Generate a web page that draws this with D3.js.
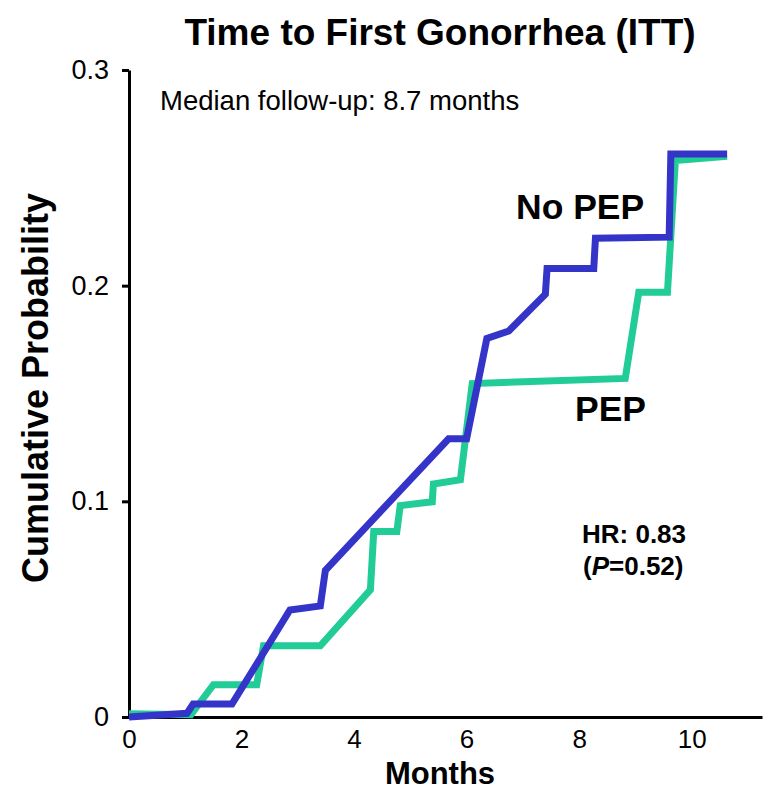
<!DOCTYPE html>
<html>
<head>
<meta charset="utf-8">
<script src="https://cdn.jsdelivr.net/npm/d3@7/dist/d3.min.js"></script>
<style>
    body { margin: 0; background: #fff; }
    svg text { font-family: "Liberation Sans", Arial, Helvetica, sans-serif; fill: #000; }
</style>
</head>
<body>
<svg id="chart" width="769" height="793"></svg>
<script>
// Time to first gonorrhea - cumulative probability by arm

const noPepMonths = [0, 1.03, 1.14, 1.83, 2.86, 3.40, 3.49, 5.68, 6.0, 6.36, 6.75, 7.40, 7.43, 8.26, 8.29, 9.60, 9.63, 10.63];
const noPepProb   = [0, 0.0017, 0.006, 0.006, 0.0496, 0.0515, 0.068, 0.129, 0.129, 0.1755, 0.179, 0.196, 0.208, 0.208, 0.222, 0.2225, 0.261, 0.261];

const pepMonths = [0, 1.1, 1.5, 2.27, 2.39, 3.40, 4.29, 4.35, 4.76, 4.82, 5.39, 5.41, 5.89, 6.10, 8.82, 9.06, 9.57, 9.71, 10.63];
const pepProb   = [0.0015, 0.001, 0.015, 0.015, 0.033, 0.033, 0.059, 0.086, 0.086, 0.098, 0.0998, 0.108, 0.11, 0.1546, 0.157, 0.197, 0.197, 0.258, 0.260];

const xTicks = [0, 2, 4, 6, 8, 10];
const yTicks = [0, 0.1, 0.2, 0.3];

const blue = '#3434c8';
const green = '#22cc96';

const svg = d3.select('#chart');

const x = d3.scaleLinear().domain([0, 11.25]).range([129, 762]);
const y = d3.scaleLinear().domain([0, 0.3]).range([717, 70]);

// Title
svg.append('text')
    .attr('x', 440)
    .attr('y', 45)
    .attr('text-anchor', 'middle')
    .style('font-size', '37px')
    .style('font-weight', 'bold')
    .text('Time to First Gonorrhea (ITT)');

// Y axis
const yAxis = svg.append('g')
    .attr('transform', `translate(${x(0)},0)`)
    .call(d3.axisLeft(y).tickValues(yTicks).tickSize(7).tickSizeOuter(0)
        .tickFormat(d => d === 0 ? '0' : d3.format('.1f')(d)));
yAxis.selectAll('path, line').attr('stroke', '#000').attr('stroke-width', 3);
yAxis.selectAll('text')
    .attr('x', -20)
    .style('font-size', '27px')
    .style('font-family', '"Liberation Sans", Arial, sans-serif');

// X axis
const xAxis = svg.append('g')
    .attr('transform', `translate(0,${y(0)})`)
    .call(d3.axisBottom(x).tickValues(xTicks).tickSize(0).tickSizeOuter(0));
xAxis.selectAll('path').attr('stroke', '#000').attr('stroke-width', 3);
xAxis.selectAll('text')
    .attr('y', 13)
    .style('font-size', '26px')
    .style('font-family', '"Liberation Sans", Arial, sans-serif');

// Axis labels
svg.append('text')
    .attr('transform', 'rotate(-90)')
    .attr('x', -388)
    .attr('y', 48)
    .attr('text-anchor', 'middle')
    .style('font-size', '36px')
    .style('font-weight', 'bold')
    .text('Cumulative Probability');

svg.append('text')
    .attr('x', 440)
    .attr('y', 784)
    .attr('text-anchor', 'middle')
    .style('font-size', '31px')
    .style('font-weight', 'bold')
    .text('Months');

// Curves
const line = d3.line()
    .x(d => x(d[0]))
    .y(d => y(d[1]));

const pepData = pepMonths.map((m, i) => [m, pepProb[i]]);
const noPepData = noPepMonths.map((m, i) => [m, noPepProb[i]]);

svg.append('path')
    .datum(pepData)
    .attr('d', line)
    .attr('fill', 'none')
    .attr('stroke', green)
    .attr('stroke-width', 7);

svg.append('path')
    .datum(noPepData)
    .attr('d', line)
    .attr('fill', 'none')
    .attr('stroke', blue)
    .attr('stroke-width', 7);

// Annotations
svg.append('text')
    .attr('x', 160)
    .attr('y', 110)
    .style('font-size', '27.5px')
    .text('Median follow-up: 8.7 months');

svg.append('text')
    .attr('x', 516)
    .attr('y', 219)
    .style('font-size', '35.5px')
    .style('font-weight', 'bold')
    .text('No PEP');

svg.append('text')
    .attr('x', 575)
    .attr('y', 421)
    .style('font-size', '35.5px')
    .style('font-weight', 'bold')
    .text('PEP');

svg.append('text')
    .attr('x', 582)
    .attr('y', 543)
    .style('font-size', '26px')
    .style('font-weight', 'bold')
    .text('HR: 0.83');

const pText = svg.append('text')
    .attr('x', 583)
    .attr('y', 575)
    .style('font-size', '26px')
    .style('font-weight', 'bold');
pText.append('tspan').text('(');
pText.append('tspan').style('font-style', 'italic').text('P');
pText.append('tspan').text('=0.52)');
</script>
</body>
</html>
